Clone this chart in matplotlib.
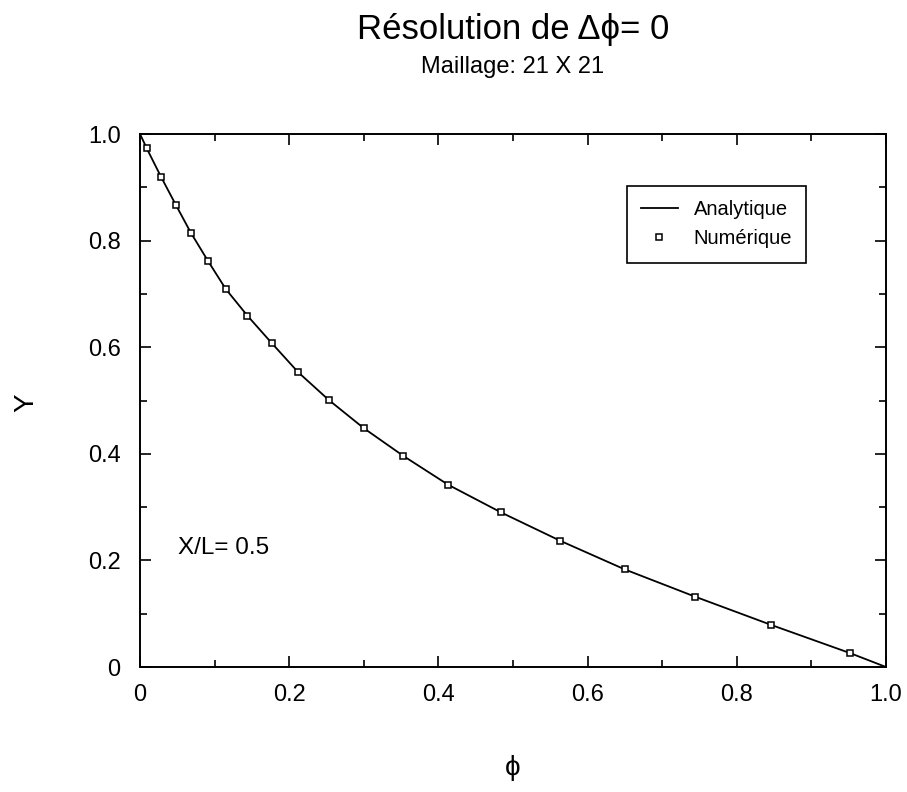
import numpy as np
import matplotlib
matplotlib.use("Agg")
import matplotlib.pyplot as plt
from matplotlib.ticker import MultipleLocator

plt.rcParams['font.family'] = ['Liberation Sans', 'DejaVu Sans']

# valeurs (X/L = 0.5)
phi_num = [0.009, 0.028, 0.048, 0.068, 0.091, 0.115, 0.144, 0.177, 0.212, 0.253,
           0.300, 0.353, 0.413, 0.484, 0.563, 0.650, 0.744, 0.846, 0.952]
y_num = [0.973, 0.920, 0.867, 0.815, 0.762, 0.709, 0.659, 0.607, 0.553, 0.501,
         0.448, 0.396, 0.342, 0.290, 0.237, 0.183, 0.132, 0.079, 0.026]

phi_ana = [0.0] + phi_num + [1.0]
y_ana = [1.0] + y_num + [0.0]

tick_vals = [0, 0.2, 0.4, 0.6, 0.8, 1.0]
tick_labels = ["0", "0.2", "0.4", "0.6", "0.8", "1.0"]

fig = plt.figure(figsize=(9.07, 7.92), dpi=100)
ax = fig.add_axes([0.1544, 0.1578, 0.8225, 0.673])

ax.plot(phi_ana, y_ana, color="black", lw=1.3, label="Analytique")
ax.plot(phi_num, y_num, linestyle="none", marker="s", markersize=5,
        markerfacecolor="white", markeredgecolor="black", markeredgewidth=1.1,
        label="Numérique")

ax.set_xlim(0, 1)
ax.set_ylim(0, 1)
ax.set_xticks(tick_vals)
ax.set_xticklabels(tick_labels)
ax.set_yticks(tick_vals)
ax.set_yticklabels(tick_labels)
ax.xaxis.set_minor_locator(MultipleLocator(0.1))
ax.yaxis.set_minor_locator(MultipleLocator(0.1))
ax.tick_params(which="both", direction="in", top=True, right=True, width=1.2)
ax.tick_params(which="major", length=8)
ax.tick_params(which="minor", length=5)
ax.tick_params(axis="x", labelsize=17, pad=12)
ax.tick_params(axis="y", labelsize=17, pad=14)
for s in ax.spines.values():
    s.set_linewidth(1.4)

ax.set_xlabel("ϕ", fontsize=20)
ax.xaxis.set_label_coords(0.5, -0.165)
ax.set_ylabel("Y", fontsize=20, rotation=90)
ax.yaxis.set_label_coords(-0.135, 0.495)

ax.text(0.051, 0.223, "X/L= 0.5", fontsize=17.5, va="center", ha="left")

leg = ax.legend(loc="upper right", bbox_to_anchor=(0.893, 0.902), fontsize=14.5,
                frameon=True, fancybox=False, edgecolor="black", framealpha=1,
                handlelength=1.8, borderpad=0.7, labelspacing=0.5,
                borderaxespad=0)
leg.get_frame().set_linewidth(1.2)

fig.text(0.5655, 1 - 30 / 792, "Résolution de Δϕ= 0", fontsize=25,
         ha="center", va="center")
fig.text(0.5655, 1 - 67 / 792, "Maillage: 21 X 21", fontsize=17,
         ha="center", va="center")

fig.savefig("out.png", dpi=100)
